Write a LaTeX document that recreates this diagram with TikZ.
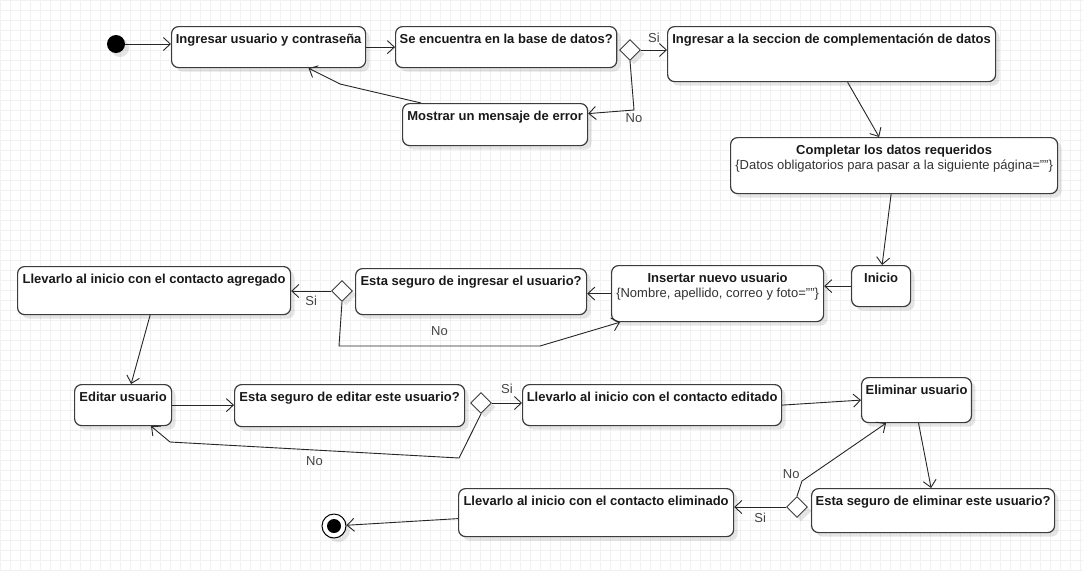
\documentclass[tikz,border=0pt]{standalone}
\usepackage{fontspec}
\setmainfont{Liberation Sans}
\usetikzlibrary{shapes.geometric,arrows.meta,shadows}
\definecolor{boxline}{HTML}{3C3C3C}
\definecolor{gridline}{HTML}{F1F1F1}
\definecolor{guardtext}{HTML}{444444}
\definecolor{notetext}{HTML}{333333}
\begin{document}
\begin{tikzpicture}[x=1pt,y=-1pt,>={Straight Barb[length=7pt,width=13pt]}]
\tikzset{every node/.style={font=\fontsize{13}{15}\selectfont},
  lightshadow/.style={drop shadow={shadow xshift=4pt, shadow yshift=-4pt, fill=black, opacity=0.10}},
  state/.style 2 args={draw=boxline, line width=1.2pt, rounded corners=7pt, fill=white,
    anchor=north west, inner xsep=4pt, inner ysep=5pt, text height=12pt, align=center,
    minimum width=#1pt, text depth=#2pt, lightshadow, text=black!90,
    font=\fontsize{13}{15}\selectfont\bfseries},
  choice/.style={diamond, draw=boxline, line width=0.9pt, fill=white, minimum width=21pt,
    minimum height=21pt, inner sep=0pt, lightshadow},
  guard/.style={text=guardtext, inner sep=0pt},
  flow/.style={->, draw=black!85, line width=0.9pt}}

\useasboundingbox (0,0) rectangle (1083,571);
\fill[white] (0,0) rectangle (1083,571);
\foreach \gx in {0,10,...,1080} \draw[gridline, line width=0.6pt] (\gx,0) -- (\gx,571);
\foreach \gy in {0,10,...,570} \draw[gridline, line width=0.6pt] (0,\gy) -- (1083,\gy);

% login
\node[circle, fill=black, minimum size=18pt, inner sep=0pt, lightshadow] (start) at (116,44) {};
\node[state={194}{19}] (ingresar) at (171,26) {Ingresar usuario y contraseña};
\node[state={221}{19}] (encuentra) at (395,26) {Se encuentra en la base de datos?};
\node[choice] (d1) at (630,50) {};
\node[state={328}{33}] (seccion) at (667,26) {Ingresar a la seccion de complementación de datos};
\node[state={185}{20}] (mostrar) at (402,103) {Mostrar un mensaje de error};

% datos
\node[state={327}{19}, text height=27pt] (completar) at (730,137) {Completar los datos requeridos\\
  {\mdseries\color{notetext}\{Datos obligatorios para pasar a la siguiente página=""\}}};
\node[state={59}{19}] (inicio) at (851,265) {Inicio};
\node[state={212}{19}, text height=27pt] (insertar) at (611,265) {Insertar nuevo usuario\\
  {\mdseries\color{notetext}\{Nombre, apellido, correo y foto=""\}}};
\node[state={231}{24}] (seguroing) at (355,268) {Esta seguro de ingresar el usuario?};
\node[choice] (d2) at (342,291) {};
\node[state={273}{26}] (agregado) at (17,266) {Llevarlo al inicio con el contacto agregado};

% editar
\node[state={97}{19}] (editar) at (74,384) {Editar usuario};
\node[state={230}{20}] (seguroed) at (234,384) {Esta seguro de editar este usuario?};
\node[choice] (d3) at (481,403) {};
\node[state={259}{19}] (editado) at (522,384) {Llevarlo al inicio con el contacto editado};

% eliminar
\node[state={107}{23}] (eliminar) at (861,377) {Eliminar usuario};
\node[state={243}{22}] (seguroel) at (811,488) {Esta seguro de eliminar este usuario?};
\node[choice] (d4) at (797,507) {};
\node[state={275}{26}] (eliminado) at (458,488) {Llevarlo al inicio con el contacto eliminado};
\node[circle, draw=black, line width=1pt, fill=white, minimum size=24pt, inner sep=0pt, lightshadow] (finish) at (334,526) {};
\node[circle, fill=black, minimum size=14pt, inner sep=0pt] (finishdot) at (finish) {};

% transiciones
\draw[flow] (start) -- (start -| ingresar.west);
\draw[flow] (ingresar.east) -- (encuentra.west);
\draw[flow] (d1.east) -- node[guard, above=7pt] {Si} (d1.east -| seccion.west);
\draw[flow] (d1.south) -- (634,110) node[guard, below=3pt] {No} -- ([yshift=11pt]mostrar.east);
\draw[flow] ([xshift=-74pt]mostrar.north) -- (340,84) -- ([xshift=40pt]ingresar.south);
\draw[flow] ([xshift=16pt]seccion.south) -- ([xshift=-15pt]completar.north);
\draw[flow] ([xshift=-3pt]completar.south) -- ([xshift=1pt]inicio.north);
\draw[flow] (inicio.west) -- (inicio.west -| insertar.east);
\draw[flow] (insertar.west) -- (insertar.west -| seguroing.east);
\draw[flow] (d2.west) -- node[guard, below=5pt] {Si} (d2.west -| agregado.east);
\draw[flow] (d2.south) -- (339,346) -- node[guard, above=10pt] {No} (540,346) -- ([xshift=9pt]insertar.south west);
\draw[flow] ([xshift=-4pt]agregado.south) -- ([xshift=8pt]editar.north);
\draw[flow] (editar.east) -- (editar.east -| seguroed.west);
\draw[flow] (d3.east) -- node[guard, above=9pt] {Si} (d3.east -| editado.west);
\draw[flow] (d3.south) -- (459,458) -- node[guard, below=6pt] {No} (170,442) -- ([xshift=28pt]editar.south);
\draw[flow] (editado.east) -- (eliminar.west);
\draw[flow] ([xshift=2pt]eliminar.south) -- ([xshift=-2pt]seguroel.north);
\draw[flow] (d4.north) -- (802,481) node[guard, above left=2pt] {No} -- ([xshift=25pt]eliminar.south west);
\draw[flow] (d4.west) -- node[guard, below=6pt] {Si} (d4.west -| eliminado.east);
\draw[flow] ([yshift=-6pt]eliminado.west) -- (finish);
\end{tikzpicture}
\end{document}
